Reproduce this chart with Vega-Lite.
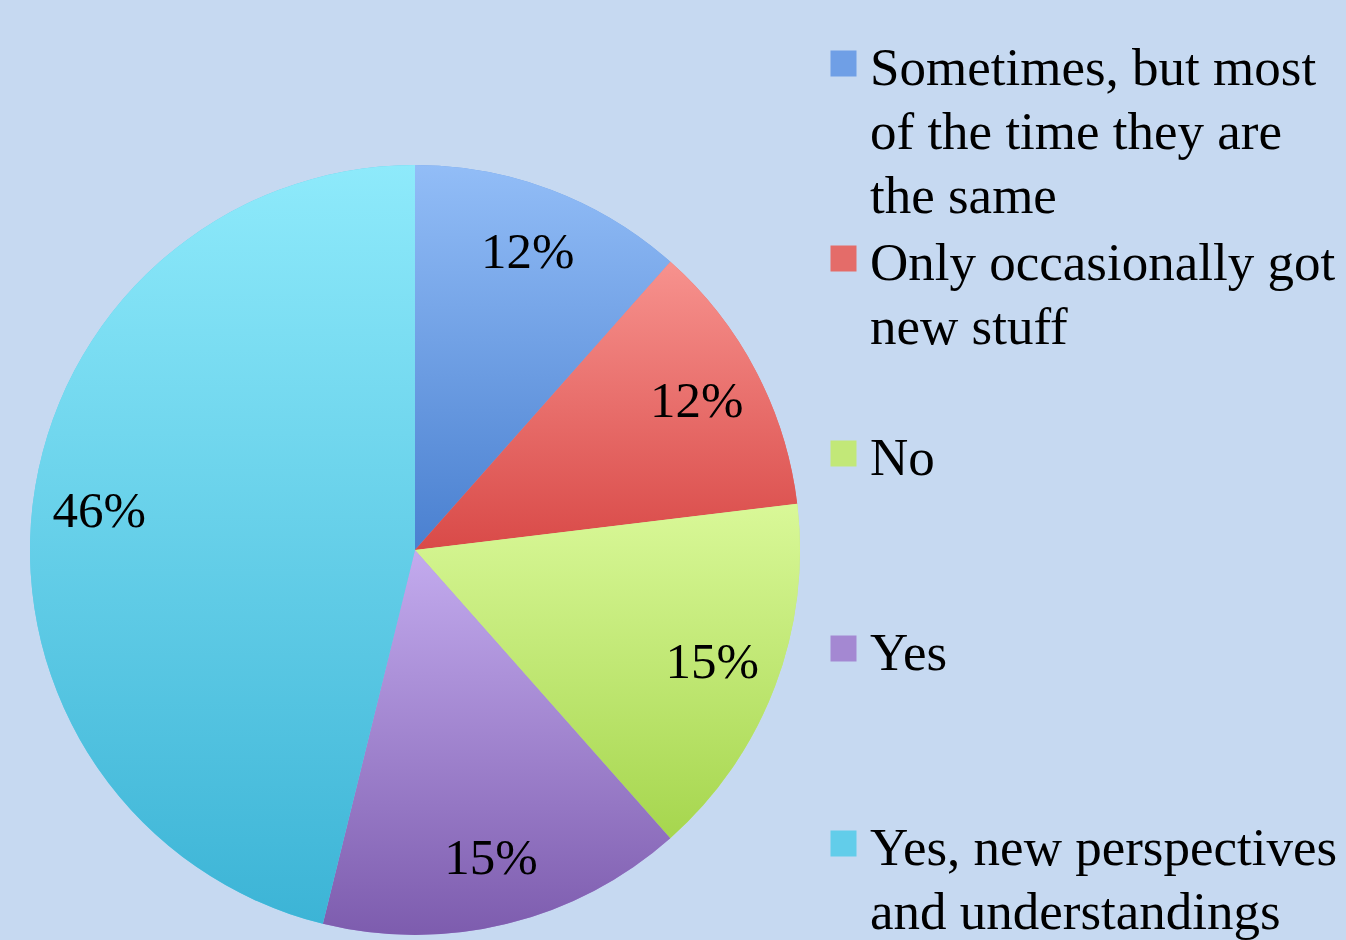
{
  "$schema": "https://vega.github.io/schema/vega-lite/v6.json",
  "width": 830,
  "height": 940,
  "autosize": {"type": "none"},
  "padding": {"left": 0, "top": 0, "right": 516, "bottom": 0},
  "background": "#C6D9F1",
  "config": {"view": {"stroke": null}},
  "data": {
    "values": [
      {"order": 1, "answer": "Sometimes, but most of the time they are the same", "share": 0.1154},
      {"order": 2, "answer": "Only occasionally got new stuff", "share": 0.1154},
      {"order": 3, "answer": "No", "share": 0.1538},
      {"order": 4, "answer": "Yes", "share": 0.1538},
      {"order": 5, "answer": "Yes, new perspectives and understandings", "share": 0.4615}
    ]
  },
  "encoding": {
    "theta": {"field": "share", "type": "quantitative", "stack": true},
    "order": {"field": "order", "type": "ordinal"}
  },
  "layer": [
    {
      "mark": {"type": "arc", "outerRadius": 385, "yOffset": 80, "strokeWidth": 0},
      "encoding": {
        "color": {
          "field": "answer",
          "type": "nominal",
          "scale": {
            "domain": [
              "Sometimes, but most of the time they are the same",
              "Only occasionally got new stuff",
              "No",
              "Yes",
              "Yes, new perspectives and understandings"
            ],
            "range": ["#6F9FE6", "#E46C69", "#C2E878", "#A488D2", "#62CDEA"]
          },
          "legend": {
            "title": null,
            "orient": "none",
            "legendX": 817,
            "legendY": 37,
            "symbolType": "square",
            "symbolSize": 676,
            "symbolStrokeWidth": 0,
            "labelFont": "Liberation Serif",
            "labelFontSize": 53,
            "labelColor": "#000000",
            "labelLimit": 600,
            "labelOffset": 0,
            "gridAlign": "all",
            "rowPadding": 8,
            "labelExpr": "datum.label == 'Sometimes, but most of the time they are the same' ? ['Sometimes, but most', 'of the time they are', 'the same'] : datum.label == 'Only occasionally got new stuff' ? ['Only occasionally got', 'new stuff'] : datum.label == 'Yes, new perspectives and understandings' ? ['Yes, new perspectives', 'and understandings'] : datum.label",
            "encode": {
              "labels": {"update": {"lineHeight": {"value": 64}, "dy": {"value": 5}}},
              "symbols": {"update": {"fill": {"signal": "{gradient: 'linear', x1: 0, y1: 0, x2: 0, y2: 1, stops: [{offset: 0, color: datum.value == 'No' ? '#D9F898' : datum.value == 'Yes' ? '#C3ABEE' : datum.value == 'Only occasionally got new stuff' ? '#F7928E' : datum.value == 'Sometimes, but most of the time they are the same' ? '#92BDF7' : '#8EEAFB'}, {offset: 1, color: datum.value == 'No' ? '#A6D64E' : datum.value == 'Yes' ? '#7D5CAE' : datum.value == 'Only occasionally got new stuff' ? '#D94A48' : datum.value == 'Sometimes, but most of the time they are the same' ? '#4A80D0' : '#3CB4D6'}]}"}}}
            }
          }
        }
      }
    },
    {
      "mark": {
        "type": "arc",
        "outerRadius": 385,
        "yOffset": 80,
        "strokeWidth": 0,
        "fill": {"expr": "{gradient: 'linear', x1: 0, y1: 0, x2: 0, y2: 1, stops: [{offset: 0, color: datum.order == 3 ? '#D9F898' : datum.order == 4 ? '#C3ABEE' : datum.order == 2 ? '#F7928E' : datum.order == 1 ? '#92BDF7' : '#8EEAFB'}, {offset: 1, color: datum.order == 3 ? '#A6D64E' : datum.order == 4 ? '#7D5CAE' : datum.order == 2 ? '#D94A48' : datum.order == 1 ? '#4A80D0' : '#3CB4D6'}]}"}
      }
    },
    {
      "mark": {"type": "text", "radius": 318, "yOffset": 80, "font": "Liberation Serif", "fontSize": 51, "color": "#000000"},
      "encoding": {
        "text": {"field": "share", "type": "quantitative", "format": ".0%"}
      }
    }
  ]
}
